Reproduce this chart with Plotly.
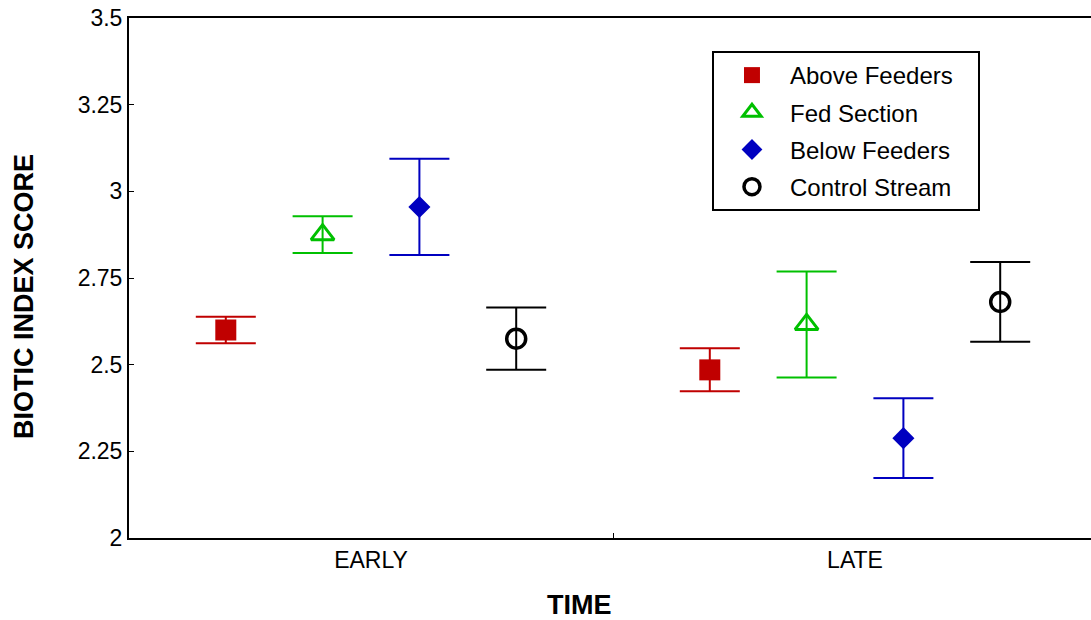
import plotly.graph_objects as go

periods = ["EARLY", "LATE"]
period_pos = [0.5, 1.5]
series_names = ["Above Feeders", "Fed Section", "Below Feeders", "Control Stream"]
offsets = [-0.3, -0.1, 0.1, 0.3]
means = {
    "Above Feeders": [2.600, 2.485],
    "Fed Section": [2.875, 2.616],
    "Below Feeders": [2.955, 2.288],
    "Control Stream": [2.575, 2.681],
}
errors = {
    "Above Feeders": [0.038, 0.062],
    "Fed Section": [0.053, 0.153],
    "Below Feeders": [0.139, 0.115],
    "Control Stream": [0.090, 0.115],
}
y_tickvals = [2, 2.25, 2.5, 2.75, 3, 3.25, 3.5]
y_ticktext = ["2", "2.25", "2.5", "2.75", "3", "3.25", "3.5"]
x_title = "TIME"
y_title = "BIOTIC INDEX SCORE"

styles = {
    "Above Feeders": dict(color="#C00000", symbol="square", size=21, line=dict(width=0)),
    "Fed Section": dict(color="#00C000", symbol="triangle-up-open", size=20, line=dict(width=3, color="#00C000")),
    "Below Feeders": dict(color="#0000C0", symbol="diamond", size=17, line=dict(width=0)),
    "Control Stream": dict(color="#000000", symbol="circle-open", size=19, line=dict(width=3.5, color="#000000")),
}

FONT = "Arial, Liberation Sans, sans-serif"
NBSP = "\u00a0" * 3
fig = go.Figure()
for name, off in zip(series_names, offsets):
    st = styles[name]
    fig.add_trace(go.Scatter(
        x=[p + off for p in period_pos],
        y=means[name],
        mode="markers",
        name=name + NBSP,
        legendgroup=name,
        marker=st,
        error_y=dict(type="data", array=errors[name], visible=True,
                     color=st["color"], thickness=2, width=30),
    ))

fig.update_layout(
    width=1091, height=620,
    margin=dict(l=129, r=0, t=18, b=82),
    paper_bgcolor="white", plot_bgcolor="white",
    font=dict(family=FONT, size=23, color="black"),
    showlegend=True,
    legend=dict(
        x=0.606, y=0.9365, xanchor="left", yanchor="top",
        bordercolor="black", borderwidth=2, bgcolor="white",
        font=dict(family=FONT, size=24, color="black"),
        itemwidth=66, tracegroupgap=3, itemsizing="trace",
    ),
    xaxis=dict(
        range=[0, 962 / 484], showgrid=False, zeroline=False,
        showline=True, linecolor="black", linewidth=2, mirror=True,
        tickvals=period_pos, ticktext=periods, ticks="",
        tickfont=dict(family=FONT, size=23),
        minor=dict(tickvals=[1], ticks="inside", ticklen=5, tickcolor="black", tickwidth=1),
        fixedrange=True,
    ),
    yaxis=dict(
        range=[2, 3.5], showgrid=False, zeroline=False,
        showline=True, linecolor="black", linewidth=2, mirror=False,
        tickvals=y_tickvals, ticktext=y_ticktext, ticks="inside", ticklen=5,
        tickcolor="black", tickwidth=1,
        tickfont=dict(family=FONT, size=23),
    ),
    annotations=[
        dict(text="<b>" + x_title + "</b>", xref="paper", yref="paper",
             x=0.468, y=0, xanchor="center", yanchor="middle", yshift=-67,
             showarrow=False, font=dict(family=FONT, size=27, color="black")),
        dict(text="<b>" + y_title + "</b>", xref="paper", yref="paper",
             x=0, y=0.5, xanchor="center", yanchor="middle", xshift=-105, yshift=-19,
             textangle=-90, showarrow=False, font=dict(family=FONT, size=27, color="black")),
    ],
)

fig.write_html("out.html")
